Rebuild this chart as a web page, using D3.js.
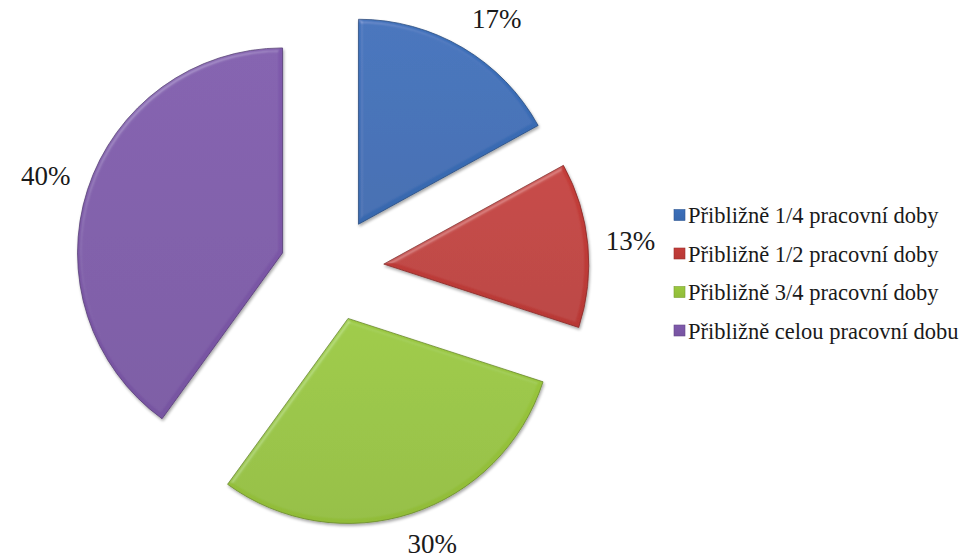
<!DOCTYPE html>
<html>
<head>
<meta charset="utf-8">
<script src="https://cdn.jsdelivr.net/npm/d3@7"></script>
<style>
  svg#chart text { font-family: "Liberation Serif", Tinos, "Times New Roman", Times, serif; }
</style>
</head>
<body style="margin:0;background:#fff">
<svg id="chart" width="978" height="559" style="display:block"></svg>
<script>
// Categories and shares (percent)
const categories = [
  "Přibližně 1/4 pracovní doby",
  "Přibližně 1/2 pracovní doby",
  "Přibližně 3/4 pracovní doby",
  "Přibližně celou pracovní dobu"
];
const values = [17, 13, 30, 40];
const colors = ["#3a6db6", "#c03c38", "#97c43c", "#7c58a8"];

const FONT = '"Liberation Serif", Tinos, "Times New Roman", Times, serif';
const cx = 332, cy = 269;       // pie centre
const radius = 205;             // slice radius
const explode = 52;             // distance each slice is pulled out
const labelGap = 18;            // gap between arc edge and label box

const svg = d3.select("#chart");
const defs = svg.append("defs");

// Soft bevel: specular light on blurred alpha, kept inside the shape
const bevel = defs.append("filter").attr("id", "bevel")
  .attr("x", "-5%").attr("y", "-5%").attr("width", "110%").attr("height", "110%");
bevel.append("feGaussianBlur").attr("in", "SourceAlpha").attr("stdDeviation", 2.2).attr("result", "blur");
const spec = bevel.append("feSpecularLighting")
  .attr("in", "blur").attr("surfaceScale", 3).attr("specularConstant", 0.5)
  .attr("specularExponent", 18).attr("lighting-color", "#ffffff").attr("result", "spec");
spec.append("feDistantLight").attr("azimuth", 235).attr("elevation", 40);
bevel.append("feComposite").attr("in", "spec").attr("in2", "SourceAlpha").attr("operator", "in").attr("result", "specIn");
bevel.append("feComposite").attr("in", "SourceGraphic").attr("in2", "specIn")
  .attr("operator", "arithmetic").attr("k1", 0).attr("k2", 1).attr("k3", 0.3).attr("k4", 0).attr("result", "lit");
bevel.append("feGaussianBlur").attr("in", "SourceAlpha").attr("stdDeviation", 1.6).attr("result", "sh");
bevel.append("feOffset").attr("in", "sh").attr("dx", 1).attr("dy", 1.5).attr("result", "shOff");
bevel.append("feComponentTransfer").attr("in", "shOff").attr("result", "shFade")
  .append("feFuncA").attr("type", "linear").attr("slope", 0.35);
const merge = bevel.append("feMerge");
merge.append("feMergeNode").attr("in", "shFade");
merge.append("feMergeNode").attr("in", "lit");

// Vertical gradients per slice colour
colors.forEach((c, i) => {
  const g = defs.append("linearGradient").attr("id", "grad" + i)
    .attr("x1", 0).attr("y1", 0).attr("x2", 0).attr("y2", 1);
  g.append("stop").attr("offset", "0%").attr("stop-color", d3.color(c).brighter(0.06));
  g.append("stop").attr("offset", "100%").attr("stop-color", d3.color(c).darker(0.12));
});

const pie = d3.pie().sort(null).value(d => d)(values);
const arc = d3.arc().innerRadius(0).outerRadius(radius);

const pieG = svg.append("g").attr("transform", `translate(${cx},${cy})`);

pieG.selectAll("path.slice")
  .data(pie)
  .join("path")
  .attr("class", "slice")
  .attr("transform", d => {
    const a = (d.startAngle + d.endAngle) / 2;
    return `translate(${Math.sin(a) * explode},${-Math.cos(a) * explode})`;
  })
  .attr("d", arc)
  .attr("fill", (d, i) => `url(#grad${i})`)
  .attr("stroke", (d, i) => d3.color(colors[i]).darker(1))
  .attr("stroke-width", 0.8)
  .attr("stroke-linejoin", "round")
  .attr("filter", "url(#bevel)");

// Percentage labels: the label box touches a circle just outside the slices
const clamp = v => Math.max(-1, Math.min(1, v));
const labels = svg.selectAll("text.pct")
  .data(pie)
  .join("text")
  .attr("class", "pct")
  .style("font-family", FONT)
  .style("font-size", "27px")
  .attr("fill", "#1a1a1a")
  .attr("text-anchor", "middle")
  .text(d => d.data + "%");

labels.each(function(d) {
  const a = (d.startAngle + d.endAngle) / 2;
  const w = this.getComputedTextLength();
  const h = 27;
  const R = radius + explode + labelGap;
  const s = Math.sin(a), c = -Math.cos(a);
  const x = cx + s * R + clamp(2 * s) * w / 2;
  const y = cy + c * R + clamp(2 * c) * h / 2;
  d3.select(this).attr("x", x).attr("y", y + 9);
});

// Legend
const legendX = 674, legendY0 = 215, legendStep = 38.5;
categories.forEach((name, i) => {
  const y = legendY0 + i * legendStep;
  svg.append("rect")
    .attr("x", legendX).attr("y", y - 5.5)
    .attr("width", 11).attr("height", 11)
    .attr("fill", `url(#grad${i})`)
    .attr("stroke", d3.color(colors[i]).darker(0.6))
    .attr("stroke-width", 0.6);
  svg.append("text")
    .attr("x", legendX + 14)
    .attr("y", y + 8)
    .style("font-family", FONT)
    .style("font-size", "22.5px")
    .attr("fill", "#1a1a1a")
    .text(name);
});
</script>
</body>
</html>
